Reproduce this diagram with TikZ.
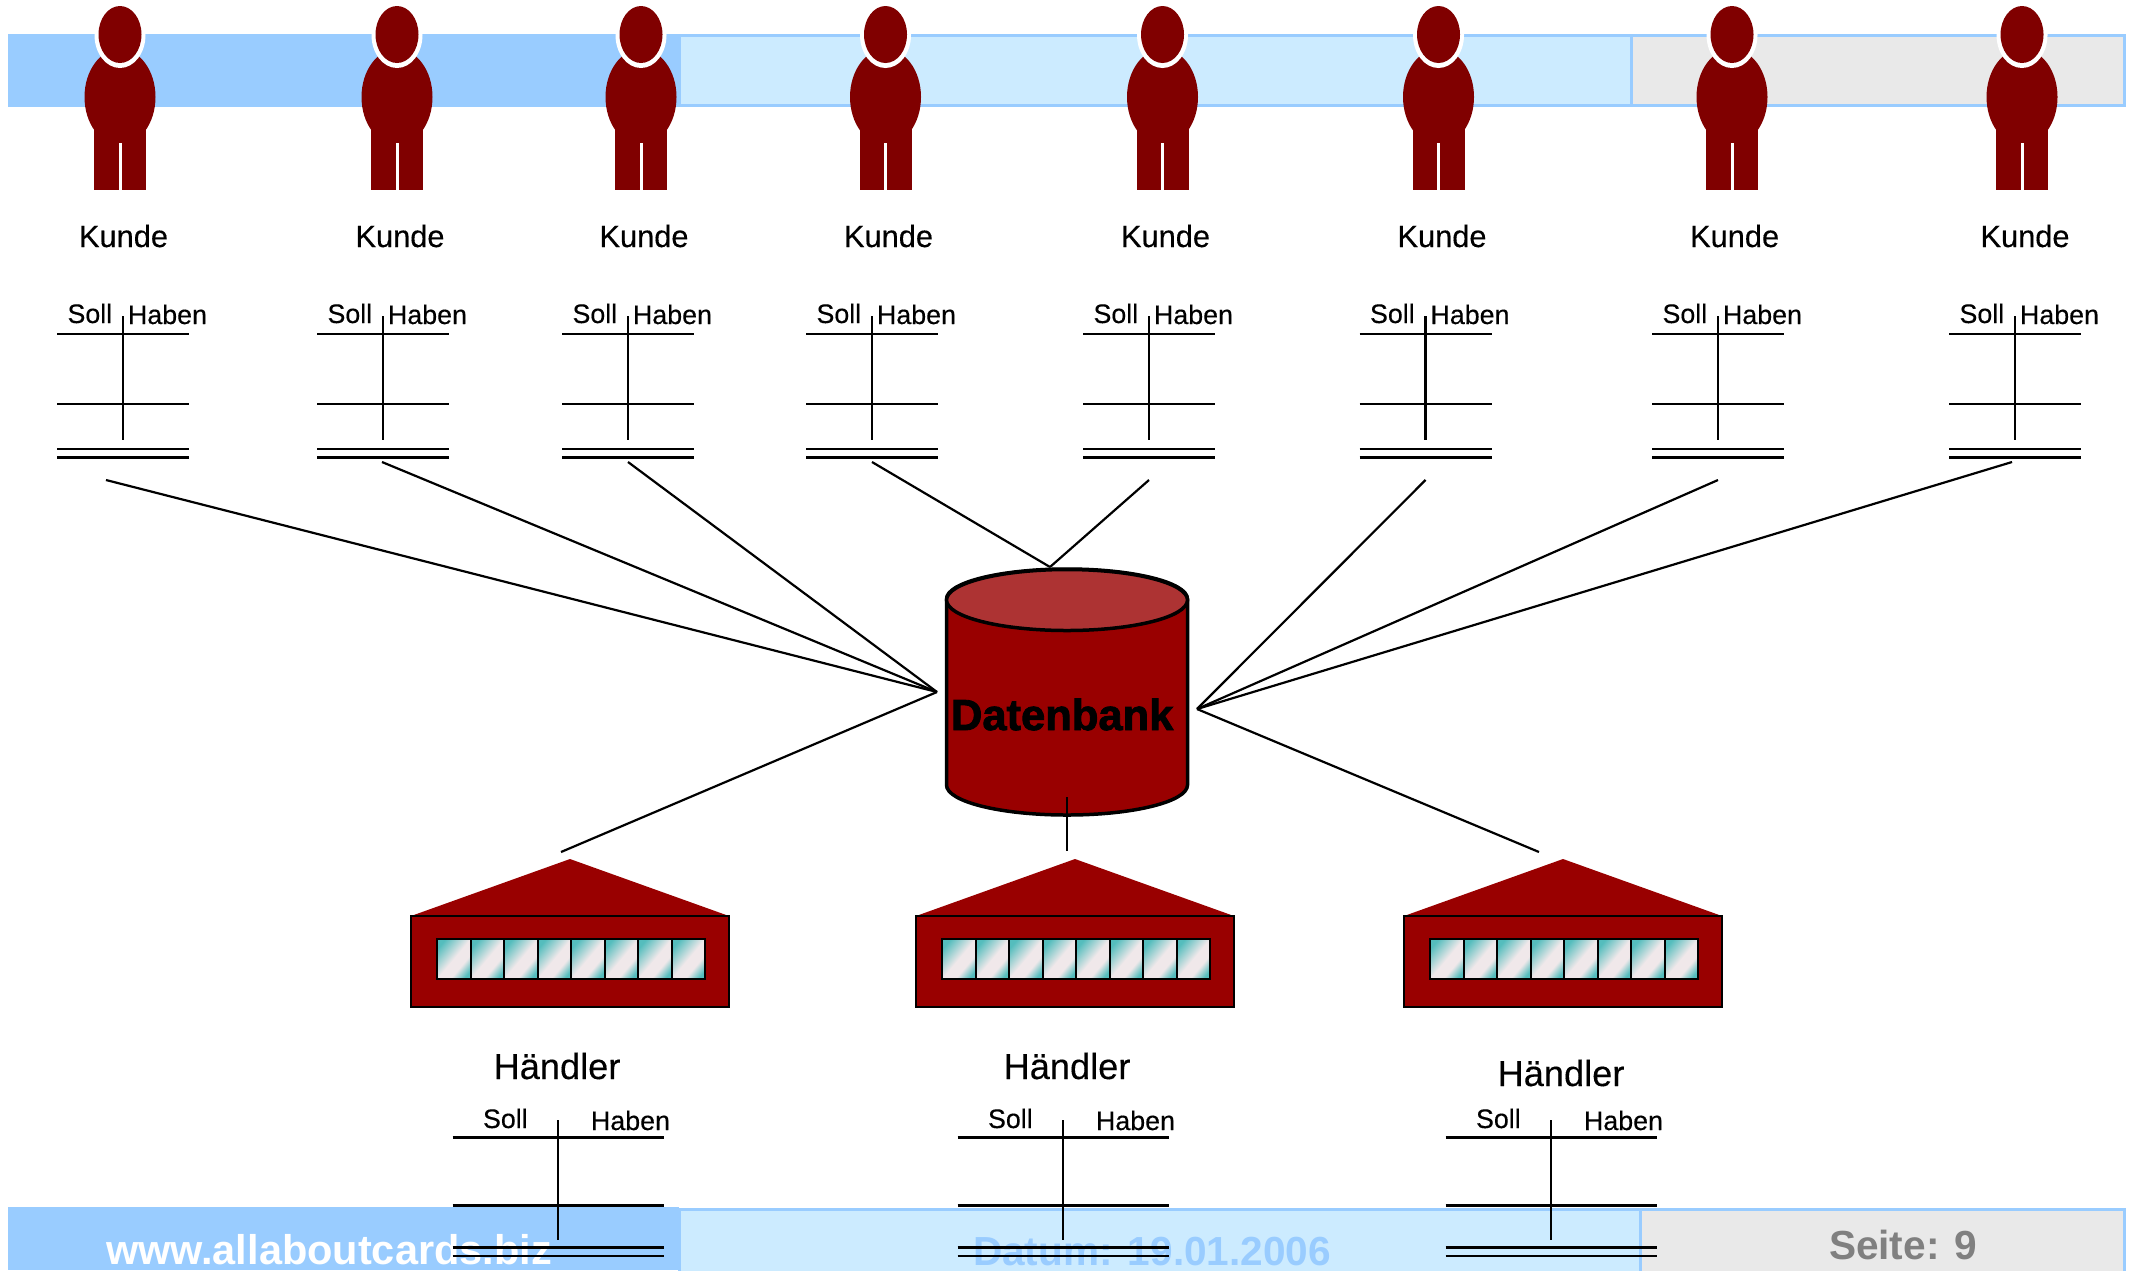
\documentclass[tikz,border=0pt]{standalone}
\usepackage{fontspec}
\setmainfont{Liberation Sans}
\newfontfamily\labelfont[FakeBold=0.3]{Liberation Sans}
\newfontfamily\fatfont[FakeBold=2]{Liberation Sans Bold}
\usetikzlibrary{calc}
\definecolor{bandA}{HTML}{99CCFF}
\definecolor{bandB}{HTML}{CCEBFF}
\definecolor{bandC}{HTML}{E9E9E9}
\definecolor{personred}{HTML}{800000}
\definecolor{barnred}{HTML}{990000}
\definecolor{dbtop}{HTML}{AD3333}
\definecolor{paneteal}{HTML}{55BDBD}
\definecolor{panepale}{HTML}{F0E8EA}
\pgfdeclarehorizontalshading{panefade}{100bp}{color(0bp)=(paneteal); color(24bp)=(paneteal); color(50bp)=(panepale); color(64bp)=(panepale); color(78bp)=(paneteal); color(100bp)=(paneteal)}
\tikzset{
  txt/.style={inner sep=0pt,outer sep=0pt,anchor=base west},
  ctr/.style={inner sep=0pt,outer sep=0pt,anchor=base},
  kundelab/.style={ctr,font=\fontsize{30.8}{30.8}\selectfont\labelfont},
  kontolab/.style={txt,font=\fontsize{26.8}{26.8}\selectfont\labelfont},
  haendlerlab/.style={ctr,font=\fontsize{36.2}{36.2}\selectfont\labelfont},
  footlab/.style={txt,font=\fontsize{40.6}{40.6}\selectfont\bfseries},
  rule/.style={line width=2.2pt,black},
  link/.style={line width=2.2pt,black},
  pane/.style={draw=black,line width=2pt,shading=panefade,shading angle=-40},
}
\begin{document}
\begin{tikzpicture}[x=1pt,y=-1pt]
\useasboundingbox (0,0) rectangle (2140,1270);
\fill[white] (0,0) rectangle (2140,1270);
% top band
\fill[bandA] (8,34) rectangle (679,107);
\draw[bandA,line width=3pt,fill=bandB] (679,35.5) rectangle (1631,105.5);
\draw[bandA,line width=3pt,fill=bandC] (1631,35.5) rectangle (2124,105.5);
% customers
\foreach \i/\px/\kx/\ax in {1/120/123.5/123,2/397/400/383,3/641/644/628,4/885.5/888.5/872,5/1162.5/1165.5/1149,6/1438.5/1442/1425.5,7/1732/1734.6/1718,8/2022/2025/2015}{
  \begin{scope}[shift={(\px,0)}]
    \fill[personred] (0,97) ellipse [x radius=35.5,y radius=48];
    \fill[personred] (-26,125) rectangle (26,190);
    \fill[white] (-1.5,143) rectangle (1.5,190);
    \fill[white] (0,35) ellipse [x radius=25.5,y radius=33];
    \fill[personred] (0,34.5) ellipse [x radius=21.5,y radius=28.5];
  \end{scope}
  \node[kundelab] (kunde\i) at (\kx,247) {Kunde};
  \begin{scope}[shift={(\ax,0)}]
    \coordinate (kt\i) at (0,316);
    \coordinate (kb\i) at (0,440);
    \draw[rule] (-66,334) -- (66,334);
    \draw[rule] (-66,404) -- (66,404);
    \draw[rule] (-66,449) -- (66,449);
    \draw[rule] (-66,457.5) -- (66,457.5);
    \draw[rule] (kt\i) -- (kb\i);
    \node[kontolab] (ksoll\i) at (-55.5,323) {Soll};
    \node[kontolab] (khaben\i) at (5,324) {Haben};
  \end{scope}
}
% database
\coordinate (hubL) at (937,692);
\coordinate (hubT) at (1050,567);
\coordinate (hubR) at (1197,709);
\draw[black,line width=3.5pt,fill=barnred] (946.5,599) -- (946.5,785) arc[start angle=180,end angle=0,x radius=120.5,y radius=30] -- (1187.5,599) arc[start angle=0,end angle=-180,x radius=120.5,y radius=30] -- cycle;
\draw[black,line width=3.5pt,fill=dbtop] (1067,600) ellipse [x radius=120.5,y radius=30.5];
\node[txt,font=\fontsize{43.5}{43.5}\selectfont\fatfont] (db) at (951,730) {Datenbank};
% links
\coordinate (c1) at (106,480);
\coordinate (c2) at (382,462);
\coordinate (c3) at (628,462);
\coordinate (c4) at (872,462);
\coordinate (c5) at (1149,480);
\coordinate (c6) at (1425.5,480);
\coordinate (c7) at (1718,480);
\coordinate (c8) at (2012,462);
\coordinate (h1) at (561,852);
\coordinate (h2t) at (1067,797);
\coordinate (h2) at (1067,851);
\coordinate (h3) at (1539,852);
\draw[link] (c1) -- (hubL);
\draw[link] (c2) -- (hubL);
\draw[link] (c3) -- (hubL);
\draw[link] (c4) -- (hubT);
\draw[link] (c5) -- (hubT);
\draw[link] (c6) -- (hubR);
\draw[link] (c7) -- (hubR);
\draw[link] (c8) -- (hubR);
\draw[link] (h1) -- (hubL);
\draw[link] (h2t) -- (h2);
\draw[link] (h3) -- (hubR);
% warehouses
\foreach \w/\dx in {1/-505,2/0,3/488}{
  \begin{scope}[shift={(\dx,0)}]
    \fill[barnred,draw=black,line width=1.5pt] (916,916) rectangle (1234,1007);
    \fill[barnred] (916,916) -- (1075,859) -- (1234,916) -- cycle;
    \draw[black,line width=1.5pt] (916,916) -- (1234,916);
    \foreach \n in {0,...,7}{
      \path[pane] ({942+\n*33.5},938.5) rectangle ({942+(\n+1)*33.5},979);
    }
  \end{scope}
}
% footer band
\fill[bandA] (8,1207) rectangle (679,1270);
\draw[bandA,line width=3pt,fill=bandB] (679,1209) rectangle (1640,1275);
\draw[bandA,line width=3pt,fill=bandC] (1640,1209) rectangle (2124,1275);
\node[footlab,white,font=\fontsize{41.5}{41.5}\selectfont\bfseries] (www) at (106,1264) {www.allaboutcards.biz};
\node[footlab,bandA] (datum) at (973,1265) {Datum: 19.01.2006};
\node[footlab,gray] (seite) at (1829,1259) {Seite: 9};
% merchant accounts
\foreach \i/\ax/\hx/\hy in {1/558/557/1079,2/1063/1067/1079,3/1551/1561/1086}{
  \node[haendlerlab] (haendler\i) at (\hx,\hy) {Händler};
  \begin{scope}[shift={(\ax,0)}]
    \coordinate (ht\i) at (0,1120);
    \coordinate (hb\i) at (0,1240);
    \draw[rule] (-105.5,1137.5) -- (105.5,1137.5);
    \draw[rule] (-105.5,1205.5) -- (105.5,1205.5);
    \draw[rule] (-105.5,1247.5) -- (105.5,1247.5);
    \draw[rule] (-105.5,1256) -- (105.5,1256);
    \draw[rule] (ht\i) -- (hb\i);
    \node[kontolab] (hsoll\i) at (-75,1128) {Soll};
    \node[kontolab] (hhaben\i) at (33,1130) {Haben};
  \end{scope}
}
\end{tikzpicture}
\end{document}
